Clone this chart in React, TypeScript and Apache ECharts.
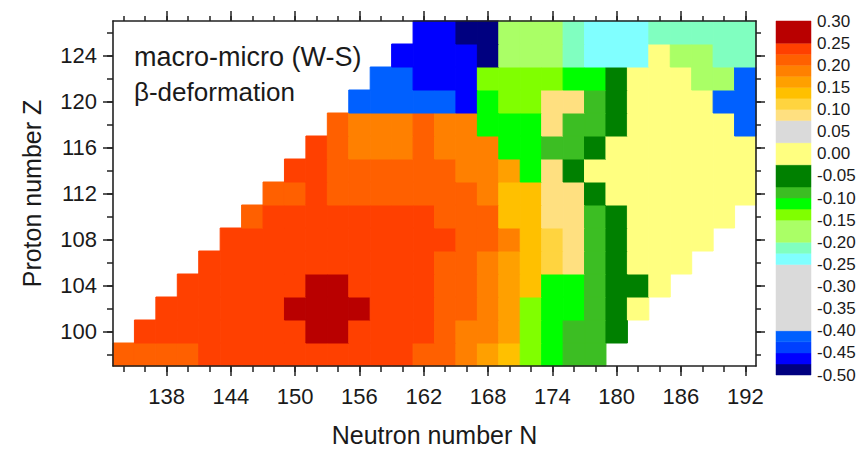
import React, { useEffect, useRef } from "react";
import * as echarts from "echarts";

// Neutron numbers (columns) and proton numbers (rows)
const N_VALUES = [134, 136, 138, 140, 142, 144, 146, 148, 150, 152, 154, 156, 158, 160, 162, 164, 166, 168, 170, 172, 174, 176, 178, 180, 182, 184, 186, 188, 190, 192];
const Z_VALUES = [98, 100, 102, 104, 106, 108, 110, 112, 114, 116, 118, 120, 122, 124, 126];

// beta-deformation per row (Z), listed for N = 134 ... 192 (null = no nucleus)
const ROW_Z98 = [0.21, 0.21, 0.21, 0.21, 0.24, 0.24, 0.24, 0.24, 0.24, 0.24, 0.24, 0.24, 0.24, 0.24, 0.21, 0.21, 0.19, 0.16, 0.14, -0.14, -0.11, -0.09, -0.09, null, null, null, null, null, null, null];
const ROW_Z100 = [null, 0.24, 0.24, 0.24, 0.24, 0.24, 0.24, 0.24, 0.24, 0.27, 0.27, 0.24, 0.24, 0.24, 0.24, 0.21, 0.19, 0.19, 0.16, -0.14, -0.11, -0.09, -0.09, -0.05, null, null, null, null, null, null];
const ROW_Z102 = [null, null, 0.24, 0.24, 0.24, 0.24, 0.24, 0.24, 0.27, 0.27, 0.27, 0.27, 0.24, 0.24, 0.24, 0.21, 0.21, 0.19, 0.16, -0.14, -0.11, -0.11, -0.09, -0.05, 0.0, null, null, null, null, null];
const ROW_Z104 = [null, null, null, 0.24, 0.24, 0.24, 0.24, 0.24, 0.24, 0.27, 0.27, 0.24, 0.24, 0.24, 0.24, 0.21, 0.21, 0.19, 0.16, 0.14, -0.11, -0.11, -0.09, -0.05, -0.05, 0.0, null, null, null, null];
const ROW_Z106 = [null, null, null, null, 0.24, 0.24, 0.24, 0.24, 0.24, 0.24, 0.24, 0.24, 0.24, 0.24, 0.24, 0.21, 0.21, 0.19, 0.16, 0.14, 0.11, 0.09, -0.09, -0.05, 0.0, 0.0, 0.0, null, null, null];
const ROW_Z108 = [null, null, null, null, null, 0.24, 0.24, 0.24, 0.24, 0.24, 0.24, 0.24, 0.24, 0.24, 0.24, 0.24, 0.21, 0.21, 0.19, 0.14, 0.11, 0.09, -0.09, -0.05, 0.0, 0.0, 0.0, 0.0, null, null];
const ROW_Z110 = [null, null, null, null, null, null, 0.21, 0.24, 0.24, 0.24, 0.24, 0.24, 0.24, 0.24, 0.24, 0.21, 0.21, 0.21, 0.14, 0.14, 0.09, 0.09, -0.09, -0.05, 0.0, 0.0, 0.0, 0.0, 0.0, null];
const ROW_Z112 = [null, null, null, null, null, null, null, 0.21, 0.21, 0.24, 0.21, 0.21, 0.21, 0.21, 0.21, 0.21, 0.21, 0.19, 0.14, 0.14, 0.09, 0.09, -0.05, 0.0, 0.0, 0.0, 0.0, 0.0, 0.0, 0.0];
const ROW_Z114 = [null, null, null, null, null, null, null, null, 0.24, 0.24, 0.21, 0.21, 0.21, 0.21, 0.21, 0.21, 0.19, 0.19, 0.16, -0.11, 0.09, -0.05, 0.0, 0.0, 0.0, 0.0, 0.0, 0.0, 0.0, 0.0];
const ROW_Z116 = [null, null, null, null, null, null, null, null, null, 0.24, 0.21, 0.19, 0.19, 0.19, 0.21, 0.19, 0.19, 0.19, -0.11, -0.11, -0.09, -0.09, -0.05, 0.0, 0.0, 0.0, 0.0, 0.0, 0.0, 0.0];
const ROW_Z118 = [null, null, null, null, null, null, null, null, null, null, 0.21, 0.19, 0.19, 0.19, 0.21, 0.19, 0.19, -0.11, -0.11, -0.11, 0.09, -0.09, -0.09, -0.05, 0.0, 0.0, 0.0, 0.0, 0.0, -0.41];
const ROW_Z120 = [null, null, null, null, null, null, null, null, null, null, null, -0.41, -0.41, -0.41, -0.41, -0.41, -0.46, -0.11, -0.14, -0.14, 0.09, 0.09, -0.09, -0.05, 0.0, 0.0, 0.0, 0.0, -0.41, -0.41];
const ROW_Z122 = [null, null, null, null, null, null, null, null, null, null, null, null, -0.41, -0.41, -0.46, -0.46, -0.46, -0.14, -0.14, -0.14, -0.14, -0.11, -0.11, -0.05, 0.0, 0.0, 0.0, -0.17, -0.17, -0.41];
const ROW_Z124 = [null, null, null, null, null, null, null, null, null, null, null, null, null, -0.46, -0.46, -0.46, -0.46, -0.49, -0.17, -0.17, -0.17, -0.21, -0.24, -0.24, -0.24, 0.0, -0.17, -0.17, -0.21, -0.21];
const ROW_Z126 = [null, null, null, null, null, null, null, null, null, null, null, null, null, null, -0.46, -0.46, -0.49, -0.49, -0.17, -0.17, -0.17, -0.21, -0.24, -0.24, -0.24, -0.21, -0.21, -0.21, -0.21, -0.21];

const ROWS = [ROW_Z98, ROW_Z100, ROW_Z102, ROW_Z104, ROW_Z106, ROW_Z108, ROW_Z110, ROW_Z112, ROW_Z114, ROW_Z116, ROW_Z118, ROW_Z120, ROW_Z122, ROW_Z124, ROW_Z126];

// Ticks
const X_MAJOR_TICKS = [138, 144, 150, 156, 162, 168, 174, 180, 186, 192];
const X_MINOR_TICKS = [134, 136, 138, 140, 142, 144, 146, 148, 150, 152, 154, 156, 158, 160, 162, 164, 166, 168, 170, 172, 174, 176, 178, 180, 182, 184, 186, 188, 190, 192];
const Y_MAJOR_TICKS = [100, 104, 108, 112, 116, 120, 124];
const Y_MINOR_TICKS = [98, 100, 102, 104, 106, 108, 110, 112, 114, 116, 118, 120, 122, 124, 126];

// Colour scale (discrete levels)
const LEVEL_BOUNDS = [-0.5, -0.475, -0.45, -0.425, -0.4, -0.25, -0.225, -0.2, -0.15, -0.125, -0.1, -0.075, -0.025, 0.025, 0.075, 0.1, 0.125, 0.15, 0.175, 0.2, 0.225, 0.25, 0.3];
const LEVEL_COLORS = ["#000080", "#0000ff", "#0040ff", "#0060ff", "#dadada", "#80ffff", "#80ffc0", "#aaff66", "#80ff00", "#00ff00", "#3cbe23", "#008000", "#ffff80", "#dadada", "#ffe080", "#ffd43f", "#ffc000", "#ffa000", "#ff8000", "#ff6000", "#ff4000", "#b90000"];

const FONT = "'Liberation Sans', Arial, Helvetica, sans-serif";
const TEXT_COLOR = "#1a1a1a";

function colorFor(v: number): string {
  for (let i = 0; i < LEVEL_COLORS.length; i++) {
    if (v >= LEVEL_BOUNDS[i] && v < LEVEL_BOUNDS[i + 1]) return LEVEL_COLORS[i];
  }
  return v >= LEVEL_BOUNDS[LEVEL_BOUNDS.length - 1] ? LEVEL_COLORS[LEVEL_COLORS.length - 1] : LEVEL_COLORS[0];
}

export default function App() {
  const ref = useRef<HTMLDivElement>(null);

  useEffect(() => {
    if (!ref.current) return;
    const chart = echarts.init(ref.current, undefined, { renderer: "svg" });

    const cells: number[][] = [];
    ROWS.forEach((row, j) => {
      row.forEach((v, i) => {
        if (v !== null && v !== undefined) cells.push([N_VALUES[i], Z_VALUES[j], v as number]);
      });
    });

    const levels = LEVEL_COLORS.map((c, i) => [LEVEL_BOUNDS[i], LEVEL_BOUNDS[i + 1], i]);

    const axisLine = { show: true, lineStyle: { color: "#222", width: 1.6 } };
    const labelStyle = { fontFamily: FONT, fontSize: 22, color: TEXT_COLOR };

    const xBase = { gridIndex: 0, type: "value" as const, min: 133, max: 193, splitLine: { show: false }, z: 5 };
    const yBase = { gridIndex: 0, type: "value" as const, min: 97, max: 127, splitLine: { show: false }, z: 5 };

    const option: any = {
      animation: false,
      backgroundColor: "#ffffff",
      grid: [
        { left: 113, top: 21, width: 643, height: 349, containLabel: false },
        { left: 776, top: 21, width: 35, height: 354, containLabel: false },
      ],
      xAxis: [
        {
          ...xBase,
          position: "bottom",
          axisLine,
          axisTick: { show: true, length: 10, customValues: X_MAJOR_TICKS, lineStyle: { color: "#222", width: 1.5 } },
          axisLabel: { show: true, customValues: X_MAJOR_TICKS, margin: 19, ...labelStyle },
          name: "Neutron number N",
          nameLocation: "middle",
          nameGap: 56,
          nameTextStyle: { fontFamily: FONT, fontSize: 25, color: TEXT_COLOR },
        },
        {
          ...xBase,
          position: "bottom",
          axisLine: { show: false },
          axisTick: { show: true, length: 6, customValues: X_MINOR_TICKS, lineStyle: { color: "#222", width: 1.5 } },
          axisLabel: { show: false },
        },
        {
          ...xBase,
          position: "top",
          axisLine,
          axisTick: { show: true, length: 10, customValues: X_MAJOR_TICKS, lineStyle: { color: "#222", width: 1.5 } },
          axisLabel: { show: false },
        },
        {
          ...xBase,
          position: "top",
          axisLine: { show: false },
          axisTick: { show: true, length: 5, customValues: X_MINOR_TICKS, lineStyle: { color: "#222", width: 1.5 } },
          axisLabel: { show: false },
        },
        { gridIndex: 1, type: "value", min: 0, max: 1, show: false },
      ],
      yAxis: [
        {
          ...yBase,
          position: "left",
          axisLine,
          axisTick: { show: true, length: 10, customValues: Y_MAJOR_TICKS, lineStyle: { color: "#222", width: 1.5 } },
          axisLabel: { show: true, customValues: Y_MAJOR_TICKS, margin: 16, ...labelStyle },
          name: "Proton number Z",
          nameLocation: "middle",
          nameGap: 69,
          nameRotate: 90,
          nameTextStyle: { fontFamily: FONT, fontSize: 25, color: TEXT_COLOR },
        },
        {
          ...yBase,
          position: "left",
          axisLine: { show: false },
          axisTick: { show: true, length: 6, customValues: Y_MINOR_TICKS, lineStyle: { color: "#222", width: 1.5 } },
          axisLabel: { show: false },
        },
        {
          ...yBase,
          position: "right",
          axisLine,
          axisTick: { show: true, length: 9, customValues: Y_MAJOR_TICKS, lineStyle: { color: "#222", width: 1.5 } },
          axisLabel: { show: false },
        },
        {
          ...yBase,
          position: "right",
          axisLine: { show: false },
          axisTick: { show: true, length: 5, customValues: Y_MINOR_TICKS, lineStyle: { color: "#222", width: 1.5 } },
          axisLabel: { show: false },
        },
        {
          gridIndex: 1,
          type: "value",
          min: -0.5,
          max: 0.3,
          interval: 0.05,
          position: "right",
          axisLine: { show: false },
          axisTick: { show: false },
          splitLine: { show: false },
          axisLabel: {
            show: true,
            margin: 6,
            fontFamily: FONT,
            fontSize: 17,
            color: TEXT_COLOR,
            formatter: (v: number) => (Math.abs(v) < 1e-9 ? "0.00" : v.toFixed(2)),
          },
        },
      ],
      series: [
        {
          type: "custom",
          xAxisIndex: 0,
          yAxisIndex: 0,
          z: 2,
          data: cells,
          renderItem: (_params: any, api: any) => {
            const n = api.value(0);
            const zz = api.value(1);
            const v = api.value(2);
            const p0 = api.coord([n - 1, zz + 1]);
            const p1 = api.coord([n + 1, zz - 1]);
            const c = colorFor(v);
            return {
              type: "rect",
              shape: { x: p0[0], y: p0[1], width: p1[0] - p0[0], height: p1[1] - p0[1] },
              style: { fill: c, stroke: c, lineWidth: 1 },
            };
          },
        },
        {
          type: "custom",
          xAxisIndex: 4,
          yAxisIndex: 4,
          data: levels,
          renderItem: (_params: any, api: any) => {
            const lo = api.value(0);
            const hi = api.value(1);
            const idx = api.value(2);
            const p0 = api.coord([0, hi]);
            const p1 = api.coord([1, lo]);
            const c = LEVEL_COLORS[idx];
            return {
              type: "rect",
              shape: { x: p0[0], y: p0[1], width: p1[0] - p0[0], height: p1[1] - p0[1] },
              style: { fill: c, stroke: c, lineWidth: 0.5 },
            };
          },
        },
      ],
      graphic: [
        {
          type: "text",
          x: 134,
          y: 57,
          style: { text: "macro-micro (W-S)", font: `27px ${FONT}`, fill: TEXT_COLOR, textVerticalAlign: "middle" },
        },
        {
          type: "text",
          x: 134,
          y: 92,
          style: { text: "β-deformation", font: `26px ${FONT}`, fill: TEXT_COLOR, textVerticalAlign: "middle" },
        },
      ],
    };

    chart.setOption(option);
    return () => chart.dispose();
  }, []);

  return <div ref={ref} style={{ position: "fixed", left: 0, top: 0, width: 860, height: 452, background: "#fff" }} />;
}
